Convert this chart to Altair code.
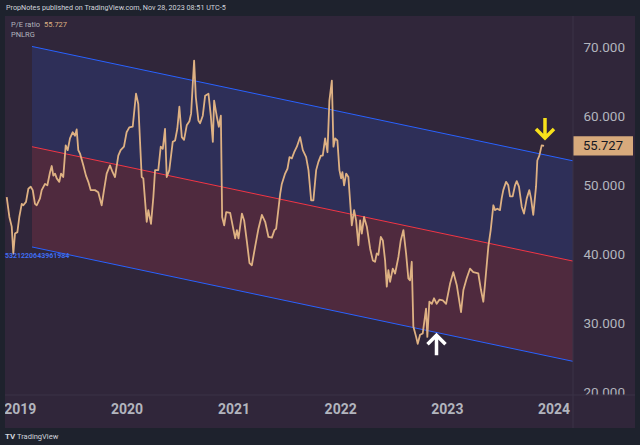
import altair as alt
import pandas as pd

# ---------------- data ----------------
t_years = [
    2018.877, 2018.902, 2018.924, 2018.939, 2018.955, 2018.977, 2018.995, 2019.018, 2019.033, 2019.058,
    2019.080, 2019.102, 2019.121, 2019.142, 2019.158, 2019.189, 2019.205, 2019.236, 2019.258, 2019.283,
    2019.299, 2019.314, 2019.330, 2019.346, 2019.370, 2019.386, 2019.407, 2019.430, 2019.449, 2019.470,
    2019.496, 2019.517, 2019.533, 2019.548, 2019.564, 2019.595, 2019.620, 2019.642, 2019.664, 2019.704,
    2019.735, 2019.767, 2019.789, 2019.814, 2019.845, 2019.870, 2019.892, 2019.923, 2019.945, 2019.976,
    2020.001, 2020.026, 2020.058, 2020.089, 2020.110, 2020.142, 2020.157, 2020.189, 2020.204, 2020.229,
    2020.251, 2020.267, 2020.297, 2020.320, 2020.339, 2020.360, 2020.376, 2020.400, 2020.432, 2020.454,
    2020.475, 2020.494, 2020.517, 2020.538, 2020.563, 2020.588, 2020.604, 2020.616, 2020.632, 2020.648,
    2020.672, 2020.688, 2020.713, 2020.735, 2020.766, 2020.788, 2020.807, 2020.819, 2020.845, 2020.863,
    2020.882, 2020.894, 2020.913, 2020.932, 2020.969, 2020.994, 2021.016, 2021.032, 2021.047, 2021.079,
    2021.100, 2021.126, 2021.150, 2021.172, 2021.203, 2021.234, 2021.266, 2021.297, 2021.328, 2021.360,
    2021.384, 2021.400, 2021.438, 2021.453, 2021.484, 2021.506, 2021.525, 2021.547, 2021.569, 2021.594,
    2021.625, 2021.650, 2021.681, 2021.703, 2021.728, 2021.749, 2021.775, 2021.796, 2021.819, 2021.837,
    2021.859, 2021.881, 2021.899, 2021.922, 2021.937, 2021.953, 2021.974, 2021.993, 2022.009, 2022.021,
    2022.037, 2022.056, 2022.077, 2022.109, 2022.131, 2022.149, 2022.171, 2022.187, 2022.203, 2022.224,
    2022.250, 2022.281, 2022.306, 2022.327, 2022.343, 2022.358, 2022.381, 2022.400, 2022.421, 2022.437,
    2022.452, 2022.468, 2022.493, 2022.515, 2022.546, 2022.568, 2022.593, 2022.618, 2022.639, 2022.655,
    2022.671, 2022.686, 2022.712, 2022.727, 2022.749, 2022.774, 2022.805, 2022.817, 2022.836, 2022.859,
    2022.880, 2022.905, 2022.930, 2022.962, 2022.993, 2023.030, 2023.061, 2023.093, 2023.133, 2023.155,
    2023.186, 2023.217, 2023.248, 2023.295, 2023.320, 2023.342, 2023.358, 2023.389, 2023.411, 2023.436,
    2023.452, 2023.473, 2023.498, 2023.514, 2023.529, 2023.555, 2023.576, 2023.592, 2023.617, 2023.639,
    2023.655, 2023.676, 2023.702, 2023.723, 2023.749, 2023.773, 2023.789, 2023.810, 2023.836, 2023.848,
    2023.867, 2023.889, 2023.911,
]
pe_ratio = [
    48.3, 45.4, 44.0, 40.1, 43.0, 43.2, 45.4, 47.3, 47.1, 47.6,
    49.5, 49.8, 49.3, 47.3, 47.1, 48.1, 49.3, 50.2, 50.0, 51.9,
    52.8, 51.4, 51.7, 51.0, 50.5, 51.7, 51.2, 55.8, 55.1, 56.8,
    57.7, 57.2, 58.1, 55.1, 54.6, 52.9, 51.4, 50.5, 49.3, 49.3,
    49.0, 47.1, 49.3, 51.7, 52.9, 51.9, 51.2, 54.3, 55.1, 55.6,
    57.7, 58.4, 58.5, 63.3, 61.8, 51.2, 51.0, 44.7, 46.4, 44.4,
    48.3, 52.2, 52.2, 55.6, 55.3, 58.2, 51.2, 52.2, 56.3, 56.5,
    58.2, 61.4, 57.0, 56.6, 58.7, 59.3, 60.4, 63.8, 68.1, 62.8,
    59.4, 59.0, 60.1, 63.0, 63.3, 60.1, 56.3, 62.3, 59.9, 58.5,
    60.1, 45.4, 44.2, 46.1, 46.0, 44.0, 42.3, 43.5, 42.3, 45.9,
    44.9, 41.8, 38.7, 38.4, 41.1, 43.7, 45.7, 44.7, 42.5, 42.4,
    43.5, 43.7, 48.8, 50.2, 51.7, 52.4, 54.1, 53.9, 54.8, 55.6,
    57.0, 55.1, 54.1, 52.2, 47.8, 47.8, 52.2, 53.4, 54.3, 54.3,
    56.8, 54.8, 62.3, 65.2, 55.6, 56.8, 56.5, 52.2, 51.0, 51.9,
    50.0, 51.7, 51.2, 44.2, 46.4, 44.9, 41.3, 44.9, 43.0, 45.4,
    44.0, 40.8, 39.1, 38.9, 40.1, 39.9, 42.5, 42.0, 39.1, 35.3,
    37.7, 36.0, 37.9, 37.2, 39.6, 42.0, 43.5, 40.1, 36.5, 36.2,
    38.9, 29.5, 28.0, 27.0, 28.3, 28.5, 32.1, 28.0, 33.1, 32.8,
    33.6, 32.8, 33.4, 33.3, 32.8, 35.7, 37.4, 35.5, 31.6, 34.8,
    36.5, 37.9, 37.4, 37.2, 34.8, 33.1, 35.7, 41.1, 43.5, 47.1,
    46.4, 46.6, 46.4, 48.1, 49.3, 50.5, 50.0, 48.4, 48.4, 50.0,
    50.6, 49.8, 46.9, 45.9, 48.1, 49.3, 48.1, 45.7, 49.8, 53.6,
    54.3, 55.8, 55.727,
]

# regression channel (start, end)
chan_t = [2019.114, 2024.182]
chan_upper = [70.15, 53.55]
chan_mid = [55.6, 39.0]
chan_lower = [41.05, 24.45]

# annotation arrows: down (yellow), up (white)
arrow_t = [2023.920, 2022.903]
arrow_v = [58.3, 26.8]

last_value = 55.727
y_ticks = [20, 30, 40, 50, 60, 70]
x_tick_years = [2019, 2020, 2021, 2022, 2023, 2024]
x_domain_years = [2018.861, 2024.182]
y_domain = [19.42, 74.57]

header_text = "PropNotes published on TradingView.com, Nov 28, 2023 08:51 UTC-5"
legend_name = "P/E ratio"
legend_symbol = "PNLRG"
corr_label = "5321220643961984"


def dec_to_ts(y):
    yr = int(y)
    a = pd.Timestamp(yr, 1, 1)
    b = pd.Timestamp(yr + 1, 1, 1)
    return a + (b - a) * (y - yr)


def ts_to_dt(ts):
    return alt.DateTime(year=ts.year, month=ts.month, date=ts.day, hours=ts.hour, minutes=ts.minute)


# ---------------- styling ----------------
W, H = 568, 380
BG = "#30263a"
FRAME = "#1e222d"
TAN = "#deb183"
BLUE = "#2962ff"
RED = "#f23645"
LABEL = "#b2b5be"
FONT = "Roboto"

x_scale = alt.Scale(domain=[ts_to_dt(dec_to_ts(v)) for v in x_domain_years])
y_scale = alt.Scale(domain=y_domain, nice=False, zero=False)

x_axis = alt.Axis(
    values=[alt.DateTime(year=y, month=1, date=1) for y in x_tick_years],
    format="%Y", title=None, grid=False, ticks=False, tickSize=0, domain=False,
    labelPadding=6, labelFontSize=14, labelFontWeight="bold", labelColor=LABEL,
    labelFont=FONT, labelFlush=False, labelOverlap=False,
)
y_axis = alt.Axis(
    orient="right", values=y_ticks, format=".3f", title=None, grid=False,
    ticks=False, tickSize=0, domain=False, labelPadding=10, labelFontSize=13.5,
    labelColor=LABEL, labelFont=FONT, labelAlign="left",
)

band_df = pd.DataFrame({
    "t": [dec_to_ts(v) for v in chan_t],
    "up": chan_upper, "mid": chan_mid, "lo": chan_lower,
})
pe_df = pd.DataFrame({"t": [dec_to_ts(v) for v in t_years], "pe": pe_ratio})
arrow_df = pd.DataFrame({"t": [dec_to_ts(v) for v in arrow_t], "v": arrow_v})
last_df = pd.DataFrame({"v": [last_value]})
one = pd.DataFrame({"a": [0]})

X = alt.X("t:T", scale=x_scale, axis=x_axis)

upper_band = alt.Chart(band_df).mark_area(color="#2e2f58", opacity=1).encode(
    x=X, y=alt.Y("mid:Q", scale=y_scale, axis=y_axis), y2="up:Q")
lower_band = alt.Chart(band_df).mark_area(color="#4f2a3e", opacity=1).encode(
    x="t:T", y=alt.Y("lo:Q", scale=y_scale), y2="mid:Q")
up_line = alt.Chart(band_df).mark_line(color=BLUE, strokeWidth=1).encode(x="t:T", y="up:Q")
mid_line = alt.Chart(band_df).mark_line(color=RED, strokeWidth=1).encode(x="t:T", y="mid:Q")
lo_line = alt.Chart(band_df).mark_line(color=BLUE, strokeWidth=1).encode(x="t:T", y="lo:Q")

pe_line = alt.Chart(pe_df).mark_line(color=TAN, strokeWidth=1.8, strokeJoin="round").encode(
    x="t:T", y="pe:Q")

down_path = "M0,-1L0,1M-0.9,0.1L0,1L0.9,0.1"
up_path = "M0,1L0,-1M-0.9,-0.1L0,-1L0.9,-0.1"
arrow_down = alt.Chart(arrow_df.iloc[[0]]).mark_point(
    shape=down_path, filled=False, stroke="#f7e11b", strokeWidth=3.5, size=400, opacity=1
).encode(x="t:T", y="v:Q")
arrow_up = alt.Chart(arrow_df.iloc[[1]]).mark_point(
    shape=up_path, filled=False, stroke="#ffffff", strokeWidth=3.5, size=400, opacity=1
).encode(x="t:T", y="v:Q")

box_path = "M-1,-0.32L1,-0.32L1,0.32L-1,0.32Z"
price_box = alt.Chart(last_df).mark_point(
    shape=box_path, filled=True, fill="#d7aa7c", strokeWidth=0, size=3600, opacity=1
).encode(x=alt.value(598), y="v:Q")
price_text = alt.Chart(last_df).mark_text(
    font=FONT, fontSize=13, color="#131722", align="center", baseline="middle"
).encode(x=alt.value(598), y="v:Q", text=alt.Text("v:Q", format=".3f"))

# time-axis pane over the price scale corner (crops the lowest price label)
corner = alt.Chart(one).mark_rect(color=BG).encode(
    x=alt.value(569), x2=alt.value(630), y=alt.value(379), y2=alt.value(412))

# outer frame strips
strip_top = alt.Chart(one).mark_rect(color=FRAME).encode(
    x=alt.value(-5), x2=alt.value(635), y=alt.value(-16), y2=alt.value(0))
strip_bottom = alt.Chart(one).mark_rect(color=FRAME).encode(
    x=alt.value(-5), x2=alt.value(635), y=alt.value(412), y2=alt.value(429))
strip_left = alt.Chart(one).mark_rect(color=FRAME).encode(
    x=alt.value(-5), x2=alt.value(0), y=alt.value(-16), y2=alt.value(429))
strip_right = alt.Chart(one).mark_rect(color=FRAME).encode(
    x=alt.value(630), x2=alt.value(635), y=alt.value(-16), y2=alt.value(429))

sep_v = alt.Chart(one).mark_rule(color="#3b3247", strokeWidth=1).encode(
    x=alt.value(568), y=alt.value(0), y2=alt.value(412))
sep_h = alt.Chart(one).mark_rule(color="#3b3247", strokeWidth=1).encode(
    x=alt.value(0), x2=alt.value(630), y=alt.value(379))

header = alt.Chart(one).mark_text(
    font=FONT, fontSize=7.2, color="#d1d4dc", align="left", baseline="middle"
).encode(x=alt.value(1), y=alt.value(-8), text=alt.value(header_text))
leg1 = alt.Chart(one).mark_text(
    font=FONT, fontSize=7.5, color=LABEL, align="left", baseline="middle"
).encode(x=alt.value(6), y=alt.value(9), text=alt.value(legend_name))
leg2 = alt.Chart(last_df).mark_text(
    font=FONT, fontSize=7.5, color=TAN, align="left", baseline="middle"
).encode(x=alt.value(39), y=alt.value(9), text=alt.Text("v:Q", format=".3f"))
leg3 = alt.Chart(one).mark_text(
    font=FONT, fontSize=7.5, color=LABEL, align="left", baseline="middle"
).encode(x=alt.value(6), y=alt.value(19), text=alt.value(legend_symbol))
corr = alt.Chart(one).mark_text(
    font=FONT, fontSize=7, fontWeight="bold", color="#3f6df0", align="left", baseline="middle"
).encode(x=alt.value(0), y=alt.value(240), text=alt.value(corr_label))
logo = alt.Chart(one).mark_text(
    font=FONT, fontSize=8, fontWeight="bold", color="#d1d4dc", align="left", baseline="middle"
).encode(x=alt.value(0), y=alt.value(421), text=alt.value("TV"))
logo_txt = alt.Chart(one).mark_text(
    font=FONT, fontSize=7.5, color="#d1d4dc", align="left", baseline="middle"
).encode(x=alt.value(12), y=alt.value(421), text=alt.value("TradingView"))

chart = alt.layer(
    upper_band, lower_band, up_line, mid_line, lo_line, pe_line,
    arrow_down, arrow_up, price_box, price_text,
    corner, sep_v, sep_h,
    strip_top, strip_bottom, strip_left, strip_right,
    header, leg1, leg2, leg3, corr, logo, logo_txt,
).properties(
    width=W, height=H,
    autosize=alt.AutoSizeParams(type="none"),
    padding={"left": 5, "top": 16, "right": 67, "bottom": 49},
    background=BG,
).configure_view(stroke=None)

chart.save("out.html", embed_options={"renderer": "svg", "actions": False})
